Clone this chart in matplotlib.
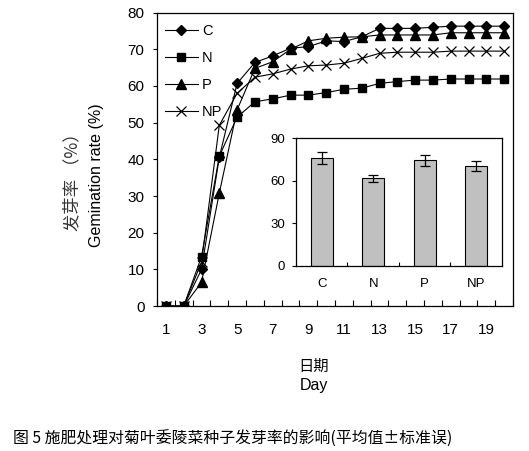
import numpy as np
import matplotlib
matplotlib.use("Agg")
from matplotlib import pyplot as plt

plt.rcParams['font.family'] = ['Liberation Sans', 'Noto Sans CJK SC', 'DejaVu Sans']

# germination rate (%) per day
days = list(range(1, 21))
rate_c = [0, 0, 10.0, 40.6, 60.7, 66.4, 68.2, 70.3, 70.7, 72.3,
          72.1, 73.4, 75.7, 75.7, 75.7, 76.0, 76.3, 76.3, 76.3, 76.3]
rate_n = [0, 0, 13.5, 40.9, 51.5, 55.7, 56.5, 57.5, 57.5, 58.2,
          59.1, 59.4, 60.7, 61.2, 61.6, 61.6, 61.9, 61.9, 61.9, 61.9]
rate_p = [0, 0, 6.5, 30.8, 53.5, 64.8, 66.6, 70.0, 72.3, 73.0,
          73.3, 73.4, 73.9, 73.9, 73.9, 73.9, 74.5, 74.5, 74.5, 74.5]
rate_np = [0, 0, 12.0, 49.3, 58.0, 62.4, 63.3, 64.6, 65.5, 65.7,
           66.2, 67.5, 68.9, 69.2, 69.2, 69.2, 69.5, 69.5, 69.5, 69.5]

# final germination rate, mean and standard error
groups = ['C', 'N', 'P', 'NP']
final_mean = [76.3, 61.8, 74.5, 70.2]
final_se = [4.1, 2.3, 3.7, 3.5]

fig = plt.figure(figsize=(5.29, 4.51), dpi=100)
ax = fig.add_axes([0.2968, 0.3211, 0.673, 0.651])

lw = 0.8
ax.plot(days, rate_c, '-', color='k', lw=lw, marker='D', ms=5.5, label='C')
ax.plot(days, rate_n, '-', color='k', lw=lw, marker='s', ms=6, label='N')
ax.plot(days, rate_p, '-', color='k', lw=lw, marker='^', ms=6.5, label='P')
ax.plot(days, rate_np, '-', color='k', lw=lw, marker='x', ms=6.5, mew=0.9, label='NP')

ax.set_xlim(0.5, 20.5)
ax.set_ylim(0, 80)
ax.set_yticks(np.arange(0, 81, 10))
ax.set_xticks(days[::2])
ax.set_xticks(np.arange(0.5, 21, 1), minor=True)
ax.tick_params(axis='x', which='major', length=0, pad=12, labelsize=11)
ax.tick_params(axis='x', which='minor', direction='in', length=4, width=0.8)
ax.tick_params(axis='y', direction='out', length=3, width=0.8, pad=6, labelsize=11)
for s in ax.spines.values():
    s.set_linewidth(0.9)

leg = ax.legend(loc='upper left', bbox_to_anchor=(0.022, 0.962), frameon=False,
                borderaxespad=0, borderpad=0, handlelength=2.26, handletextpad=0.3,
                labelspacing=0.9, fontsize=10.5)

fig.text(0.593, 0.188, '日期', ha='center', va='center', fontsize=11,
         family=['Noto Sans CJK SC', 'DejaVu Sans'])
fig.text(0.593, 0.146, 'Day', ha='center', va='center', fontsize=11.5)
fig.text(0.136, 0.605, '发芽率 （%）', ha='center', va='center', rotation=90,
         fontsize=12.5, color='#333333', family=['Noto Sans CJK SC', 'DejaVu Sans'])
fig.text(0.183, 0.612, 'Gemination rate (%)', ha='center', va='center', rotation=90,
         fontsize=11.5)
fig.text(0.025, 0.025, '图 5 施肥处理对菊叶委陵菜种子发芽率的影响(平均值±标准误)',
         ha='left', va='center', fontsize=11.4, family=['Noto Sans CJK SC', 'DejaVu Sans'])

# inset bar chart
ins = fig.add_axes([0.5595, 0.4102, 0.3894, 0.2831])
x = np.arange(len(groups))
ins.bar(x, final_mean, width=0.43, color='#c0c0c0', edgecolor='k', linewidth=0.8,
        yerr=final_se, capsize=3.5, error_kw={'elinewidth': 0.9, 'capthick': 0.9})
ins.set_xlim(-0.5, 3.5)
ins.set_ylim(0, 90)
ins.set_yticks([0, 30, 60, 90])
ins.set_xticks(x)
ins.set_xticklabels(groups)
ins.set_xticks(np.arange(0.5, 3, 1), minor=True)
ins.tick_params(axis='x', which='major', length=0, pad=9, labelsize=9.5)
ins.tick_params(axis='x', which='minor', direction='in', length=3, width=0.8)
ins.tick_params(axis='y', direction='out', length=3, width=0.8, pad=5, labelsize=9.5)
for s in ins.spines.values():
    s.set_linewidth(0.9)

fig.savefig('out.png', dpi=100)
